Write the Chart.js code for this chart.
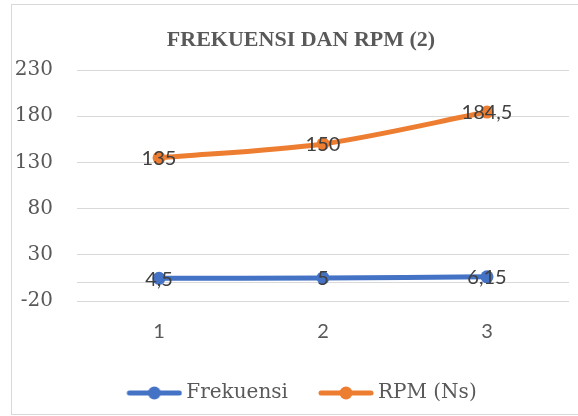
<!DOCTYPE html>
<html>
<head>
<meta charset="utf-8">
<script src="https://cdn.jsdelivr.net/npm/chart.js@4.4.1/dist/chart.umd.min.js"></script>
<style>
  html, body { margin: 0; padding: 0; background: #ffffff; }
  .frame { position: absolute; left: 11px; top: 4px; width: 700px; height: 411px; box-sizing: border-box; border: 1px solid #d9d9d9; }
  canvas { position: absolute; left: 0; top: 0; }
</style>
</head>
<body>
<div class="frame"></div>
<canvas id="chart" width="578" height="416"></canvas>
<script>
const chartTitle = 'FREKUENSI DAN RPM (2)';
const categories = ['1', '2', '3'];
const frekuensi = [4.5, 5, 6.15];
const rpm = [135, 150, 184.5];
const seriesNames = ['Frekuensi', 'RPM (Ns)'];
const seriesColors = ['#4472c4', '#ed7d31'];
const yTickValues = [-20, 30, 80, 130, 180, 230];
const yAxisLine = 0;

const textGrey = '#595959';
const labelGrey = '#404040';
const gridGrey = '#d9d9d9';

function makeLegendMarker(color) {
  const c = document.createElement('canvas');
  c.width = 82;
  c.height = 16;
  const ctx = c.getContext('2d');
  ctx.strokeStyle = color;
  ctx.lineWidth = 5;
  ctx.lineCap = 'round';
  ctx.beginPath();
  ctx.moveTo(29, 8);
  ctx.lineTo(79, 8);
  ctx.stroke();
  ctx.fillStyle = color;
  ctx.beginPath();
  ctx.arc(54, 8, 6.5, 0, Math.PI * 2);
  ctx.fill();
  return c;
}

const legendMarkers = seriesColors.map(makeLegendMarker);

// title drawn by hand so it can sit off-centre like the original
const titleText = {
  id: 'titleText',
  afterDraw(chart) {
    const { ctx } = chart;
    ctx.save();
    ctx.font = 'bold 22px "Liberation Serif"';
    ctx.fillStyle = textGrey;
    ctx.textAlign = 'center';
    ctx.textBaseline = 'middle';
    ctx.fillText(chartTitle, 301, 40);
    ctx.restore();
  },
};

const pointLabels = {
  id: 'pointLabels',
  afterDatasetsDraw(chart) {
    const { ctx } = chart;
    ctx.save();
    ctx.font = '20px Lato';
    ctx.fillStyle = labelGrey;
    ctx.textAlign = 'center';
    ctx.textBaseline = 'middle';
    chart.data.datasets.forEach((ds, i) => {
      chart.getDatasetMeta(i).data.forEach((pt, j) => {
        ctx.fillText(String(ds.data[j]).replace('.', ','), pt.x, pt.y + 1);
      });
    });
    ctx.restore();
  },
};

function makeDataset(label, data, color) {
  return {
    label,
    data,
    borderColor: color,
    backgroundColor: color,
    borderWidth: 5,
    borderCapStyle: 'round',
    pointRadius: 6.5,
    pointBorderWidth: 0,
    pointBackgroundColor: color,
    tension: 0.3,
    fill: false,
  };
}

new Chart(document.getElementById('chart'), {
  type: 'line',
  data: {
    labels: categories,
    datasets: [
      makeDataset(seriesNames[0], frekuensi, seriesColors[0]),
      makeDataset(seriesNames[1], rpm, seriesColors[1]),
    ],
  },
  options: {
    responsive: false,
    animation: false,
    devicePixelRatio: 1,
    layout: { padding: { left: 14, right: 9, top: 70, bottom: 3 } },
    plugins: {
      title: { display: false },
      legend: {
        position: 'bottom',
        labels: {
          usePointStyle: true,
          pointStyleWidth: 70,
          padding: 10,
          color: textGrey,
          font: { family: 'DejaVu Serif', size: 20 },
          generateLabels: (chart) => {
            const items = Chart.defaults.plugins.legend.labels.generateLabels(chart);
            items.forEach((item, i) => {
              item.pointStyle = legendMarkers[i];
              item.fontColor = textGrey;
            });
            return items;
          },
        },
      },
      tooltip: { enabled: false },
    },
    scales: {
      x: {
        offset: true,
        grid: { display: false, drawTicks: false },
        border: { display: false },
        ticks: { color: textGrey, font: { family: 'Lato', size: 20 }, padding: 19 },
        afterFit: (scale) => { scale.height = 72; },
      },
      y: {
        min: -20,
        max: 230,
        afterBuildTicks: (scale) => {
          scale.ticks = [yAxisLine, ...yTickValues].sort((a, b) => a - b).map((v) => ({ value: v }));
        },
        grid: { color: gridGrey, lineWidth: 1, drawTicks: false },
        border: { display: false },
        ticks: {
          autoSkip: false,
          color: textGrey,
          font: { family: 'DejaVu Serif', size: 20 },
          padding: 24,
          callback: (v) => (v === yAxisLine ? '' : v),
        },
        afterFit: (scale) => { scale.width = 63; },
      },
    },
  },
  plugins: [pointLabels, titleText],
});
</script>
</body>
</html>
